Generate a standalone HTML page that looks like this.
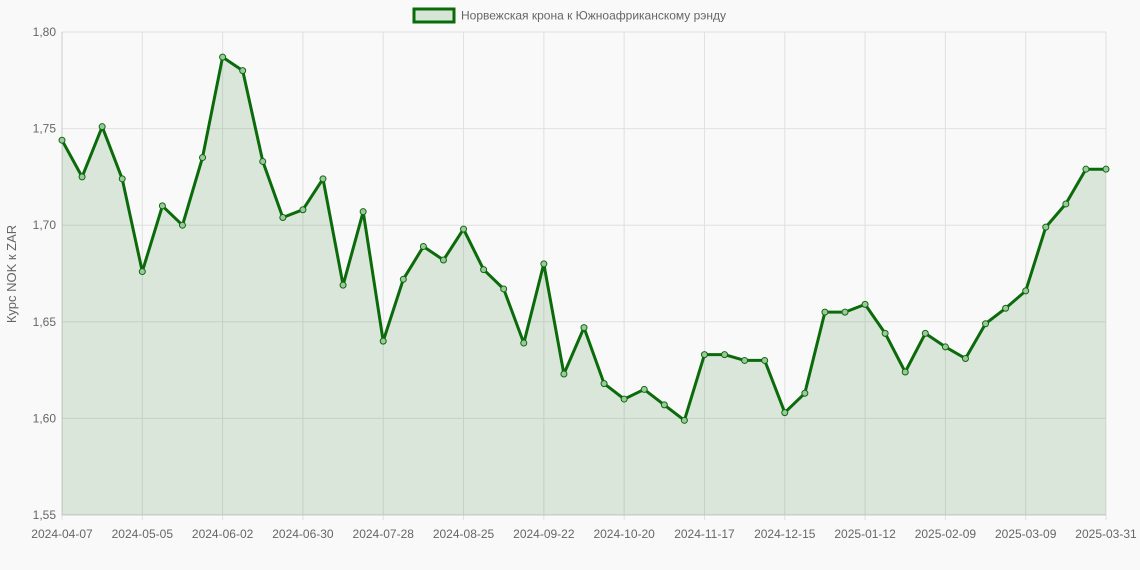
<!DOCTYPE html>
<html><head><meta charset="utf-8"><style>
body{margin:0;background:#f9f9f9;}
svg{display:block;font-family:"Liberation Sans",sans-serif;}
</style></head><body>
<svg id="s" width="1140" height="570" xmlns="http://www.w3.org/2000/svg">
<rect width="1140" height="570" fill="#f9f9f9"/>
<g id="grid"></g>
<path id="area" fill="rgba(0,100,0,0.12)" stroke="none"/>
<path id="line" fill="none" stroke="#0b6b0b" stroke-width="3" stroke-linejoin="round"/>
<g id="pts"></g>
<rect x="414" y="9" width="40" height="13" fill="#d6e6d6" stroke="#0b6b0b" stroke-width="3"/>
<text x="461" y="19.5" font-size="12" fill="#666">Норвежская крона к Южноафриканскому рэнду</text>
<text transform="translate(16,274) rotate(-90)" text-anchor="middle" font-size="13" fill="#666">Курс NOK к ZAR</text>
</svg>
<script>
var v=[1.744,1.725,1.751,1.724,1.676,1.710,1.700,1.735,1.787,1.780,1.733,1.704,1.708,1.724,1.669,1.707,1.640,1.672,1.689,1.682,1.698,1.677,1.667,1.639,1.680,1.623,1.647,1.618,1.610,1.615,1.607,1.599,1.633,1.633,1.630,1.630,1.603,1.613,1.655,1.655,1.659,1.644,1.624,1.644,1.637,1.631,1.649,1.657,1.666,1.699,1.711,1.729,1.729];
var L=62,R=1106,T=32,B=515,n=v.length,dx=(R-L)/(n-1);
function Y(a){return T+(1.80-a)/0.25*(B-T);}
var g='',ns='';
for(var i=0;i<=5;i++){var val=1.55+i*0.05,y=Y(val);g+='<line x1="'+L+'" x2="'+R+'" y1="'+y+'" y2="'+y+'" stroke="#e0e0e0"/>';g+='<text x="'+(L-6)+'" y="'+(y+4)+'" text-anchor="end" font-size="12" fill="#666">'+val.toFixed(2).replace('.',',')+'</text>';}
var labs=['2024-04-07','2024-05-05','2024-06-02','2024-06-30','2024-07-28','2024-08-25','2024-09-22','2024-10-20','2024-11-17','2024-12-15','2025-01-12','2025-02-09','2025-03-09','2025-03-31'];
for(var k=0;k<labs.length;k++){var idx=k<13?k*4:52,x=L+idx*dx;g+='<line x1="'+x+'" x2="'+x+'" y1="'+T+'" y2="'+(B+5)+'" stroke="#e0e0e0"/>';g+='<text x="'+x+'" y="'+(B+23)+'" text-anchor="middle" font-size="12" fill="#666">'+labs[k]+'</text>';}
g+='<line x1="'+L+'" x2="'+L+'" y1="'+T+'" y2="'+B+'" stroke="#ccc"/><line x1="'+L+'" x2="'+R+'" y1="'+B+'" y2="'+B+'" stroke="#ccc"/>';
document.getElementById('grid').innerHTML=g;
var d='',p='';
for(var i=0;i<n;i++){var x=L+i*dx,y=Y(v[i]);d+=(i?'L':'M')+x.toFixed(1)+' '+y.toFixed(1);p+='<circle cx="'+x+'" cy="'+y+'" r="3" fill="#9fc79f" stroke="#0b6b0b" stroke-width="1"/>';}
document.getElementById('line').setAttribute('d',d);
document.getElementById('area').setAttribute('d',d+'L'+R+' '+B+'L'+L+' '+B+'Z');
document.getElementById('pts').innerHTML=p;
</script>
</body></html>
